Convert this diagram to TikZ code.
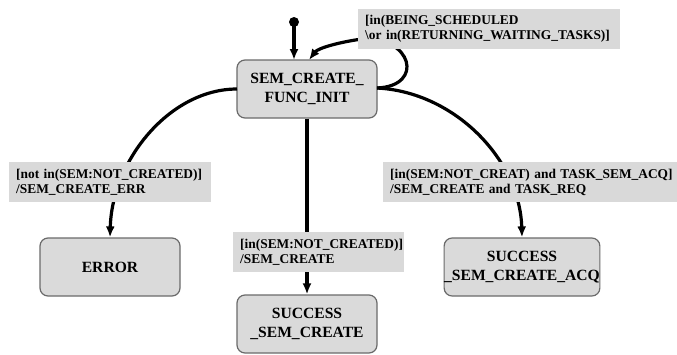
\documentclass[tikz,border=0pt]{standalone}
\usepackage{fontspec}
\setmainfont{Liberation Serif}
\usetikzlibrary{arrows.meta}
\definecolor{statefill}{HTML}{DADADA}
\definecolor{stateline}{HTML}{6A6A6A}
\definecolor{guardfill}{HTML}{D9D9D9}
\tikzset{
  state/.style={draw=stateline, line width=1.2pt, fill=statefill, rounded corners=8pt,
    minimum width=140pt, minimum height=58pt, align=center, inner sep=0pt,
    font=\fontsize{15.6}{19}\selectfont\bfseries},
  guard/.style={fill=guardfill, anchor=north west, align=left, inner xsep=7pt, inner ysep=0pt,
    minimum height=40pt, font=\fontsize{13.4}{15}\selectfont\bfseries},
  trans/.style={line width=3.2pt, -{Latex[length=11pt,width=9pt]}},
}
\begin{document}
\begin{tikzpicture}[x=1pt,y=-1pt]
  \useasboundingbox (0,0) rectangle (677,354);

  % states
  \node[state] (init) at (307,89) {SEM\_CREATE\_\\FUNC\_INIT};
  \node[state] (err) at (110,267) {ERROR};
  \node[state] (succ) at (307,324) {SUCCESS\\\_SEM\_CREATE};
  \node[state] (acq) at (522,267) {SUCCESS\\\_SEM\_CREATE\_ACQ};

  % initial pseudostate
  \fill (294,22) circle (5pt) coordinate (start);
  \coordinate (initTop) at (294,60);
  \draw[trans] (start) -- (initTop);

  % transitions
  \coordinate (loopOut) at (377,88);
  \coordinate (loopIn) at (309,60);
  \draw[trans] (loopOut) .. controls (425,86) and (412,36) .. (362,39)
                          .. controls (340,42) and (318,48) .. (loopIn);

  \coordinate (errOut) at (237,89);
  \draw[trans] (errOut) .. controls (170,89) and (112,160) .. (err.north);

  \draw[trans] (init.south) -- (succ.north);

  \coordinate (acqOut) at (377,88);
  \draw[trans] (acqOut) .. controls (455,92) and (520,160) .. (acq.north);

  % guard labels
  \node[guard, text width=248pt] (g1) at (358,9)
    {[in(BEING\_SCHEDULED\\\textbackslash or in(RETURNING\_WAITING\_TASKS)]};
  \node[guard, text width=188pt] (g2) at (9,162)
    {[not in(SEM:NOT\_CREATED)]\\/SEM\_CREATE\_ERR};
  \node[guard, text width=157pt] (g3) at (233,232)
    {[in(SEM:NOT\_CREATED)]\\/SEM\_CREATE};
  \node[guard, text width=286pt] (g4) at (383,162)
    {[in(SEM:NOT\_CREAT) and TASK\_SEM\_ACQ]\\/SEM\_CREATE and TASK\_REQ};
\end{tikzpicture}
\end{document}
